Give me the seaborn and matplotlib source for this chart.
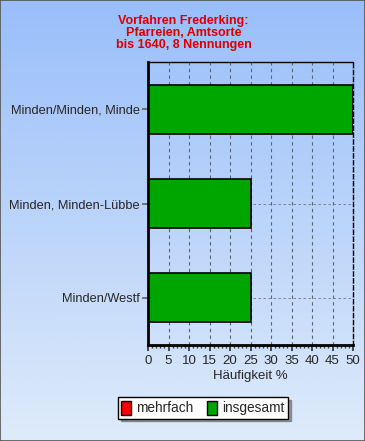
import numpy as np
import pandas as pd
import matplotlib
matplotlib.use("Agg")
import matplotlib.pyplot as plt
import seaborn as sns
from matplotlib.patches import Patch

# Chart values
orte = ['Minden/Minden, Minde', 'Minden, Minden-Lübbe', 'Minden/Westf']
insgesamt = [50, 25, 25]
mehrfach = [0, 0, 0]
x_ticks = list(range(0, 55, 5))

sns.set_theme(style="white")
plt.rcParams['font.family'] = ['Liberation Sans', 'DejaVu Sans']

fig = plt.figure(figsize=(3.65, 4.41), dpi=100)

# Gradient background over the whole figure
bg = fig.add_axes([0, 0, 1, 1], zorder=-10)
grad = np.linspace(0, 1, 256).reshape(-1, 1)
top = np.array([153, 190, 250]) / 255
bottom = np.array([222, 235, 250]) / 255
img = top + (bottom - top) * grad[..., None]
bg.imshow(img, aspect='auto', extent=[0, 1, 0, 1], origin='upper')
bg.set_axis_off()
fig.patches.append(plt.Rectangle((0, 0), 1, 1, transform=fig.transFigure,
                                 fill=False, edgecolor='#555555', lw=1.2))

ax = fig.add_axes([148 / 365, 1 - 345 / 441, (353 - 148) / 365, (345 - 62) / 441])
ax.patch.set_alpha(0)

df = pd.DataFrame({'ort': orte, 'wert': insgesamt})
sns.barplot(data=df, x='wert', y='ort', orient='h', color='#00A600',
            edgecolor='black', linewidth=1.2, width=0.52, saturation=1, ax=ax)

ax.set_xlim(0, 50)
ax.set_ylim(2.5, -0.5)
ax.set_xticks(x_ticks)
ax.set_xticks(range(0, 51), minor=True)
ax.tick_params(axis='x', which='minor', length=2, color='#333333', bottom=True)
ax.tick_params(axis='x', which='major', length=4, color='#333333', bottom=True,
               labelsize=9.5, pad=3)
ax.tick_params(axis='y', length=4, left=True, labelsize=9.2, color='#666666', pad=2)
ax.grid(True, axis='x', linestyle=(0, (3, 3)), color='#556677', linewidth=0.8)
ax.grid(True, axis='y', linestyle=(0, (3, 3)), color='#777777', linewidth=0.6)
ax.set_axisbelow(True)

ax.spines['left'].set_linewidth(2)
ax.spines['bottom'].set_linewidth(2)
ax.spines['left'].set_color('black')
ax.spines['bottom'].set_color('black')
ax.spines['top'].set_linewidth(1)
ax.spines['top'].set_color('black')
ax.spines['right'].set_linestyle((0, (3, 2)))
ax.spines['right'].set_linewidth(1)
ax.spines['right'].set_color('black')

ax.set_ylabel('')
ax.set_xlabel('Häufigkeit %', fontsize=9.5, labelpad=2)

fig.text(0.503, 1 - 15 / 441, 'Vorfahren Frederking:\nPfarreien, Amtsorte\nbis 1640, 8 Nennungen',
         ha='center', va='top', color='#DD0000', fontsize=9, fontweight='bold',
         linespacing=1.0)

handles = [Patch(facecolor='#FF0000', edgecolor='black', label='mehrfach'),
           Patch(facecolor='#00A600', edgecolor='black', label='insgesamt')]
leg = fig.legend(handles=handles, loc='center', bbox_to_anchor=(203 / 365, 1 - 408 / 441),
                 ncol=2, fontsize=9.8, frameon=True, fancybox=False, shadow=True,
                 handlelength=0.7, handleheight=1.2, handletextpad=0.4,
                 columnspacing=1.0, borderpad=0.25, borderaxespad=0)
leg.get_frame().set_edgecolor('black')
leg.get_frame().set_facecolor('white')
leg.get_frame().set_alpha(1)

fig.savefig('out.png', dpi=100)
